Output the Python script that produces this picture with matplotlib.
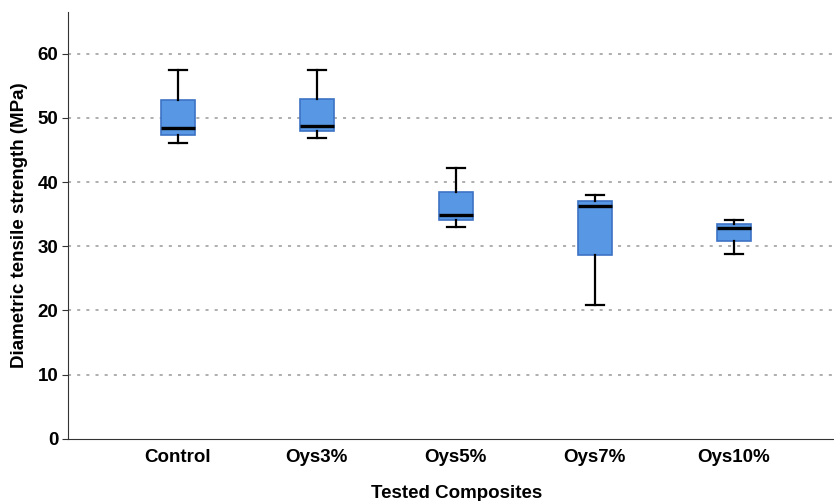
import matplotlib
matplotlib.use("Agg")
import matplotlib.pyplot as plt

groups = ["Control", "Oys3%", "Oys5%", "Oys7%", "Oys10%"]
whisker_low = [46.1, 46.9, 33.0, 20.9, 28.8]
q1 = [47.4, 48.0, 34.1, 28.7, 30.8]
medians = [48.4, 48.7, 34.9, 36.3, 32.9]
q3 = [52.8, 53.0, 38.5, 37.1, 33.5]
whisker_high = [57.5, 57.5, 42.2, 38.0, 34.1]

stats = []
for i, name in enumerate(groups):
    stats.append({"label": name, "whislo": whisker_low[i], "q1": q1[i],
                  "med": medians[i], "q3": q3[i], "whishi": whisker_high[i]})

plt.rcParams["font.family"] = "Liberation Sans"

fig = plt.figure(figsize=(8.34, 5.01), dpi=100)
ax = fig.add_axes([0.0815, 0.124, 0.918, 0.852])

ax.bxp(stats, positions=range(len(groups)), widths=0.245, patch_artist=True,
       showfliers=False,
       boxprops=dict(facecolor="#5797e3", edgecolor="#3d72c4", linewidth=1.2),
       medianprops=dict(color="black", linewidth=2.4),
       whiskerprops=dict(color="black", linewidth=1.6),
       capprops=dict(color="black", linewidth=1.6),
       capwidths=0.13)

ax.set_xlim(-0.79, 4.72)
ax.set_ylim(0, 66.5)
ax.set_yticks(range(0, 70, 10))
for y in range(10, 70, 10):
    ax.axhline(y, color="#999999", linestyle=(0, (2, 4)), linewidth=1.1, zorder=0)

ax.spines["top"].set_visible(False)
ax.spines["right"].set_visible(False)
ax.spines["left"].set_color("#333333")
ax.spines["bottom"].set_color("#333333")
ax.tick_params(axis="x", length=0, pad=7)
ax.tick_params(axis="y", length=4, color="#333333", pad=3)
for lab in ax.get_xticklabels() + ax.get_yticklabels():
    lab.set_fontweight("bold")
    lab.set_fontsize(13.5)

ax.set_xlabel("Tested Composites", fontsize=13.5, fontweight="bold")
ax.xaxis.label.set_va("center")
ax.xaxis.set_label_coords(0.508, -0.127)
ax.set_ylabel("Diametric tensile strength (MPa)", fontsize=13.5, fontweight="bold")
ax.yaxis.label.set_va("center")
ax.yaxis.set_label_coords(-0.063, 0.5)

fig.savefig("out.png", dpi=100)
